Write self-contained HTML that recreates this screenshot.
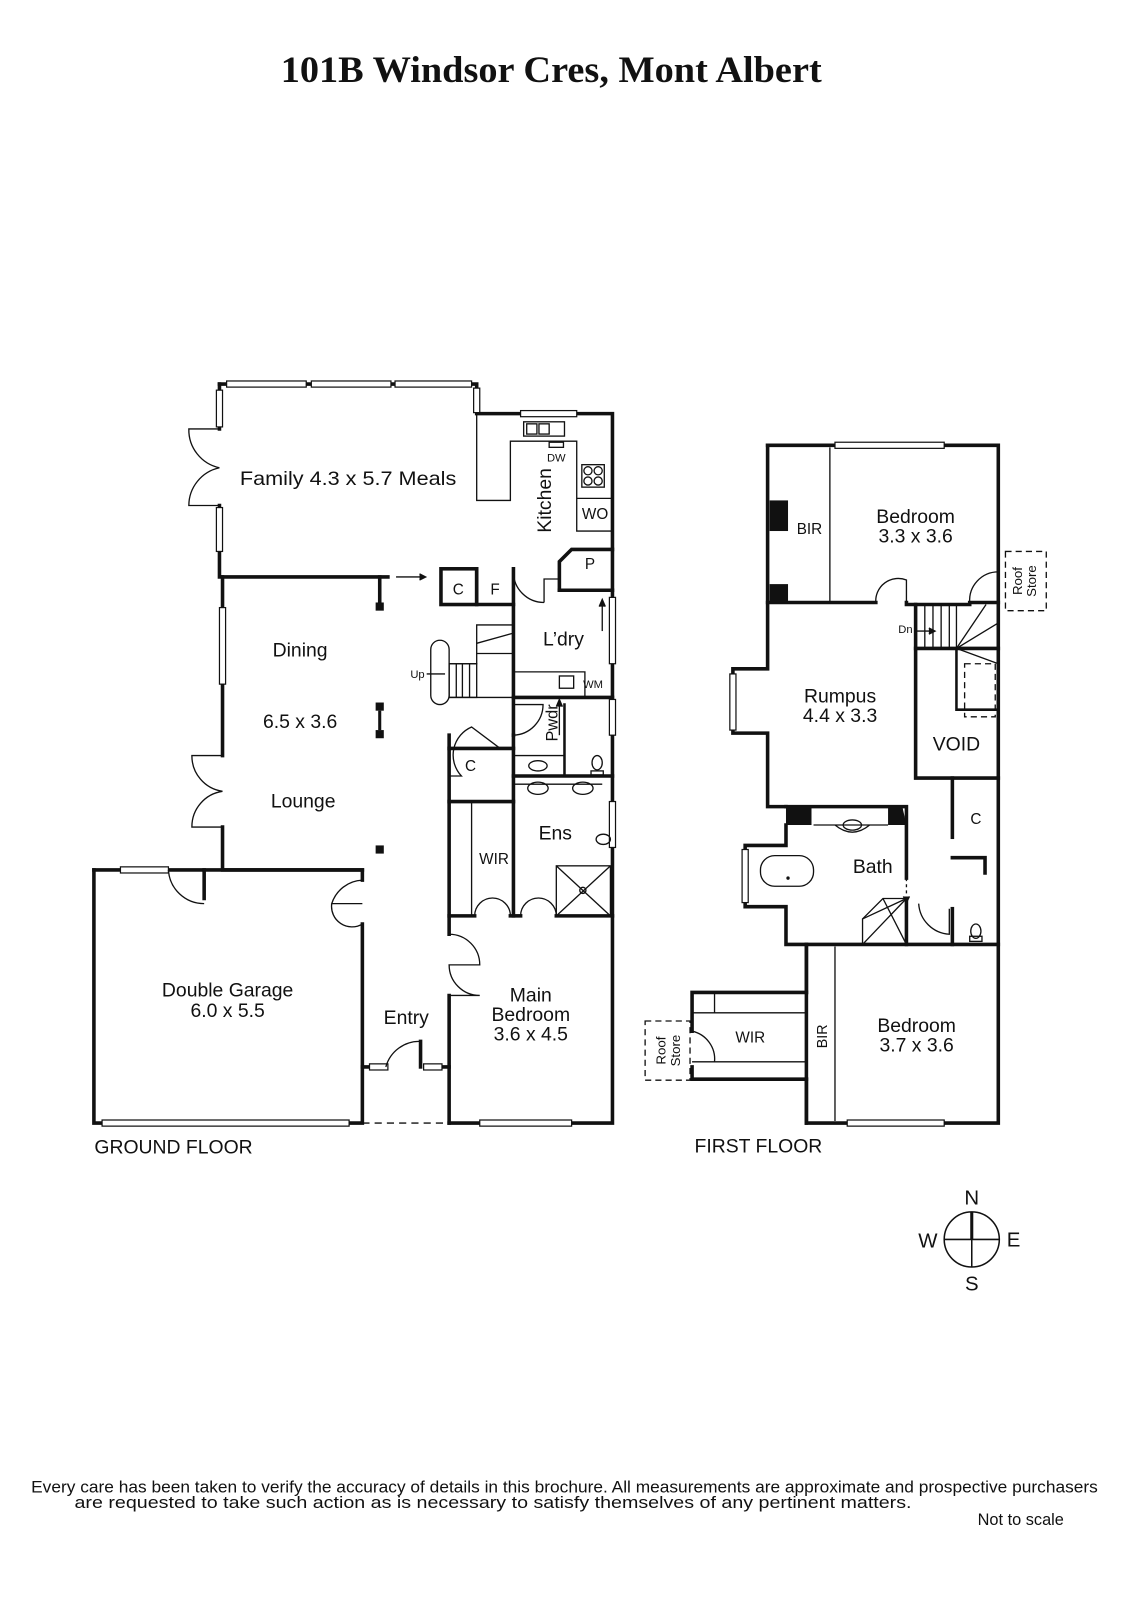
<!DOCTYPE html>
<html><head><meta charset="utf-8"><style>
html,body{margin:0;padding:0;background:#fff;}
svg{display:block}
text{font-family:"Liberation Sans",sans-serif;fill:#111;}
</style></head><body>
<svg width="1131" height="1600" viewBox="0 0 1108 1567" xmlns="http://www.w3.org/2000/svg">
<rect x="0" y="0" width="1108" height="1567" fill="#fff"/>
<text x="540" y="80" text-anchor="middle" textLength="530" lengthAdjust="spacingAndGlyphs" style="font-family:'Liberation Serif',serif;font-weight:bold;font-size:36px">101B Windsor Cres, Mont Albert</text>

<g fill="none" stroke="#111" stroke-width="3.5" stroke-linecap="square">
<polyline points="215,376 467,376 467,405 600,405 600,1100 440,1100"/>
<polyline points="215,376 215,420"/><polyline points="215,495 215,565 218,565 218,740"/>
<polyline points="218,810 218,852 355,852"/>
<polyline points="92,852 92,1100 355,1100 355,905"/>
<polyline points="92,852 200,852 200,880"/>
<polyline points="200,852 355,852 355,862"/>
<polyline points="440,1100 440,975"/><polyline points="440,915 440,720"/>
<polyline points="218,565 380,565"/><polyline points="372,565 372,592"/>
<rect x="432" y="557" width="35" height="35"/>
<polyline points="467,557 467,592 503,592"/>
<polyline points="503,557 503,720"/>
<polyline points="503,683 600,683"/>
<polyline points="548,578 600,578"/>
<polyline points="548,578 548,550 560,538 600,538"/>
<polyline points="503,720 503,897"/>
<polyline points="503,760 600,760"/>
<polyline points="553,690 553,760" stroke-width="2.5"/>
<polyline points="440,733 490,733 503,733"/>
<polyline points="440,785 503,785"/>
<polyline points="440,897 465,897"/><polyline points="500,897 510,897"/><polyline points="545,897 600,897"/>
<polyline points="355,1045 372,1045"/><polyline points="425,1045 440,1045"/>
<polyline points="412,1045 412,1020"/>

<polyline points="752,436 978,436 978,1100 790,1100 790,925"/>
<polyline points="752,436 752,655 718,655 718,718 752,718 752,790 770,790"/>
<polyline points="752,590 858,590"/><polyline points="888,590 888,592 950,592"/>
<polyline points="978,590 950,590"/>
<polyline points="897,592 897,762 978,762"/>
<polyline points="897,635 978,635"/>
<polyline points="770,790 888,790 888,860"/>
<polyline points="888,880 888,925"/>
<polyline points="770,808 770,828 730,828 730,888 770,888 770,925 978,925"/>
<polyline points="933,762 933,820"/>
<polyline points="933,840 965,840 965,855"/>
<polyline points="933,890 933,925"/>
<polyline points="790,972 678,972 678,1010"/>
<polyline points="678,1045 678,1057 790,1057"/>
<polyline points="790,925 790,972"/><polyline points="790,1057 790,1100"/>
</g>

<g fill="#fff" stroke="#111" stroke-width="1.2">
<rect x="222" y="373" width="78" height="6"/><rect x="305" y="373" width="78" height="6"/><rect x="387" y="373" width="75" height="6"/>
<rect x="212" y="382" width="6" height="36"/><rect x="212" y="497" width="6" height="43"/>
<rect x="215" y="595" width="6" height="75"/>
<rect x="464" y="380" width="6" height="24"/>
<rect x="510" y="402" width="55" height="6"/>
<rect x="597" y="585" width="6" height="65"/><rect x="597" y="685" width="6" height="35"/><rect x="597" y="785" width="6" height="45"/>
<rect x="118" y="849" width="47" height="6"/>
<rect x="100" y="1097" width="242" height="6"/>
<rect x="470" y="1097" width="90" height="6"/>
<rect x="362" y="1042" width="18" height="6"/><rect x="415" y="1042" width="18" height="6"/>
<rect x="818" y="433" width="107" height="6"/>
<rect x="830" y="1097" width="95" height="6"/>
<rect x="715" y="660" width="6" height="55"/>
<rect x="727" y="832" width="6" height="52"/>
</g>

<g fill="none" stroke="#111" stroke-width="1.3">
<path d="M215,420 L185,420 A38,38 0 0 0 215,458 M215,495 L185,495 A38,38 0 0 1 215,458"/>
<path d="M218,740 L188,740 A35,35 0 0 0 218,775 M218,810 L188,810 A35,35 0 0 1 218,775"/>
<path d="M165,852 A35,35 0 0 0 200,885"/>
<path d="M355,862 A33,33 0 0 0 325,885 L355,885 M355,905 A20,20 0 0 1 325,885"/>
<path d="M440,915 A30,30 0 0 1 470,945 L440,945 A30,30 0 0 0 470,975 L440,975"/>
<path d="M378,1045 A34,34 0 0 1 412,1020"/>
<path d="M465,897 A17,17 0 0 1 500,897 M510,897 A17,17 0 0 1 545,897"/>
<path d="M462,785 L462,897"/>
<path d="M503,720 A30,30 0 0 0 532,690 L503,690"/>
<path d="M490,733 L462,712 A30,30 0 0 0 452,760 L440,760"/>
<path d="M503,560 A30,30 0 0 0 533,590 M533,590 L533,567 L548,567"/>
<polyline points="467,405 467,490 500,490 500,432 565,432 565,520 600,520"/>
<polyline points="565,488 600,488"/>
<rect x="513" y="413" width="40" height="14"/><rect x="516" y="415" width="10" height="10"/><rect x="528" y="415" width="10" height="10"/>
<rect x="538" y="433" width="14" height="5"/>
<rect x="570" y="455" width="22" height="22"/>
<circle cx="576" cy="461" r="4"/><circle cx="586" cy="461" r="4"/><circle cx="576" cy="471" r="4"/><circle cx="586" cy="471" r="4"/>
<rect x="422" y="627" width="18" height="63" rx="9"/>
<polyline points="440,650 467,650 467,612 503,612"/>
<line x1="467" y1="630" x2="503" y2="620"/><line x1="467" y1="640" x2="503" y2="640"/>
<rect x="440" y="650" width="27" height="33"/>
<line x1="447" y1="650" x2="447" y2="683"/><line x1="453" y1="650" x2="453" y2="683"/><line x1="460" y1="650" x2="460" y2="683"/>
<line x1="440" y1="683" x2="503" y2="683"/>
<polyline points="503,658 573,658 573,683"/>
<rect x="548" y="662" width="14" height="12"/>
<polyline points="503,740 553,740"/><ellipse cx="527" cy="750" rx="9" ry="5"/>
<ellipse cx="585" cy="747" rx="5" ry="7"/><rect x="579" y="755" width="12" height="4"/>
<ellipse cx="527" cy="772" rx="10" ry="6"/><ellipse cx="571" cy="772" rx="10" ry="6"/>
<path d="M503,768 L590,768"/>
<ellipse cx="591" cy="822" rx="7" ry="5"/>
<rect x="545" y="848" width="53" height="49"/><line x1="545" y1="848" x2="598" y2="897"/><line x1="598" y1="848" x2="545" y2="897"/>
<circle cx="571" cy="872" r="3"/>
<polyline points="355,1100 440,1100" stroke-dasharray="7,5"/>
<line x1="388" y1="565" x2="415" y2="565"/><polyline points="411,562 417,565 411,568" fill="#111"/>
<line x1="418" y1="660" x2="436" y2="660"/>
<line x1="590" y1="618" x2="590" y2="590"/><polyline points="587,594 590,587 593,594" fill="#111"/>
<line x1="548" y1="720" x2="548" y2="688"/><polyline points="545,692 548,685 551,692" fill="#111"/>

<line x1="813" y1="438" x2="813" y2="590"/>
<path d="M858,590 A22,22 0 0 1 888,568 L888,590"/>
<path d="M950,590 A28,28 0 0 1 978,560"/>
<rect x="985" y="540" width="40" height="58" stroke-dasharray="6,4"/>
<line x1="906" y1="592" x2="906" y2="635"/><line x1="914" y1="592" x2="914" y2="635"/><line x1="922" y1="592" x2="922" y2="635"/><line x1="930" y1="592" x2="930" y2="635"/><line x1="937" y1="592" x2="937" y2="635"/>
<line x1="937" y1="635" x2="966" y2="592"/><line x1="937" y1="635" x2="978" y2="610"/><line x1="937" y1="635" x2="978" y2="650"/>
<polyline points="937,635 937,695 978,695" stroke-width="2.5"/>
<rect x="945" y="650" width="30" height="52" stroke-dasharray="6,4"/>
<line x1="896" y1="618" x2="913" y2="618"/><polyline points="910,615 916,618 910,621" fill="#111"/>
<rect x="745" y="838" width="52" height="30" rx="14"/><circle cx="772" cy="860" r="1" fill="#111"/>
<path d="M797,808 L870,808 M818,808 Q835,822 852,808"/><ellipse cx="835" cy="808" rx="9" ry="5"/>
<polygon points="845,900 865,880 888,880 888,925 845,925"/>
<line x1="845" y1="900" x2="888" y2="880"/><line x1="865" y1="880" x2="888" y2="925"/><line x1="845" y1="925" x2="888" y2="880"/>
<line x1="888" y1="860" x2="888" y2="880" stroke-dasharray="3,3"/><polyline points="885,878 888,884 891,878" fill="#111"/>
<path d="M900,885 A32,32 0 0 0 930,915 L930,890"/>
<ellipse cx="956" cy="912" rx="5" ry="7"/><rect x="950" y="917" width="12" height="5"/>
<polyline points="678,992 790,992"/><polyline points="700,992 700,972"/>
<polyline points="678,1040 790,1040"/>
<path d="M678,1010 A28,28 0 0 1 700,1040"/>
<rect x="632" y="1000" width="44" height="58" stroke-dasharray="6,4"/>
<line x1="818" y1="927" x2="818" y2="1098"/>
</g>
<g fill="#111">
<rect x="368" y="590" width="8" height="8"/><rect x="368" y="688" width="8" height="8"/><rect x="368" y="715" width="8" height="8"/><rect x="368" y="828" width="8" height="8"/>
<line x1="372" y1="696" x2="372" y2="715" stroke="#111" stroke-width="3"/>
<rect x="754" y="490" width="18" height="30"/><rect x="754" y="572" width="18" height="18"/>
<rect x="770" y="790" width="25" height="18"/><polygon points="870,790 884,790 888,808 870,808"/>
</g>

<g fill="none" stroke="#111" stroke-width="1.5">
<circle cx="952" cy="1214" r="27"/>
<line x1="925" y1="1214" x2="979" y2="1214"/><line x1="952" y1="1214" x2="952" y2="1241"/>
<line x1="952" y1="1187" x2="952" y2="1214" stroke-width="3"/>
</g>
<g font-size="20" text-anchor="middle">
<text x="952" y="1180">N</text><text x="952" y="1264">S</text><text x="909" y="1222">W</text><text x="993" y="1221">E</text>
</g>

<g font-size="19" text-anchor="middle">
<text x="341" y="475" textLength="212" lengthAdjust="spacingAndGlyphs">Family  4.3 x 5.7  Meals</text>
<text x="294" y="643">Dining</text>
<text x="294" y="713">6.5 x 3.6</text>
<text x="297" y="791">Lounge</text>
<text x="223" y="976">Double Garage</text>
<text x="223" y="996">6.0 x 5.5</text>
<text x="398" y="1003">Entry</text>
<text x="520" y="981">Main</text><text x="520" y="1000">Bedroom</text><text x="520" y="1019">3.6 x 4.5</text>
<text x="552" y="632">L’dry</text>
<text x="544" y="822">Ens</text>
<text x="897" y="512">Bedroom</text><text x="897" y="531">3.3 x 3.6</text>
<text x="823" y="688">Rumpus</text><text x="823" y="707">4.4 x 3.3</text>
<text x="937" y="735">VOID</text>
<text x="855" y="855">Bath</text>
<text x="898" y="1011">Bedroom</text><text x="898" y="1030">3.7 x 3.6</text>
<text x="170" y="1130">GROUND FLOOR</text>
<text x="743" y="1129">FIRST FLOOR</text>
</g>
<g font-size="15" text-anchor="middle">
<text x="449" y="582">C</text><text x="485" y="582">F</text>
<text x="461" y="755">C</text><text x="484" y="846">WIR</text>
<text x="578" y="557">P</text><text x="583" y="508">WO</text>
<text x="793" y="523">BIR</text><text x="956" y="807">C</text><text x="735" y="1021">WIR</text>
</g>
<g font-size="11" text-anchor="middle">
<text x="545" y="452">DW</text><text x="581" y="674">WM</text><text x="409" y="664">Up</text><text x="887" y="620">Dn</text>
</g>
<text x="540" y="490" font-size="19" text-anchor="middle" transform="rotate(-90 540 490)">Kitchen</text>
<text x="546" y="708" font-size="16" text-anchor="middle" transform="rotate(-90 546 708)">Pwdr</text>
<text x="810" y="1015" font-size="14" text-anchor="middle" transform="rotate(-90 810 1015)">BIR</text>
<g font-size="13" text-anchor="middle">
<text transform="translate(1003,569) rotate(-90)" y="-2">Roof</text><text transform="translate(1003,569) rotate(-90)" y="12">Store</text>
<text transform="translate(654,1029) rotate(-90)" y="-2">Roof</text><text transform="translate(654,1029) rotate(-90)" y="12">Store</text>
</g>
<g font-size="16" text-anchor="middle">
<text x="553" y="1462" textLength="1045" lengthAdjust="spacingAndGlyphs">Every care has been taken to verify the accuracy of details in this brochure.  All measurements are approximate and prospective purchasers</text>
<text x="483" y="1477" textLength="820" lengthAdjust="spacingAndGlyphs">are requested to take such action as is necessary to satisfy themselves of any pertinent matters.</text>
<text x="1000" y="1494">Not to scale</text>
</g>
</svg>
</body></html>
